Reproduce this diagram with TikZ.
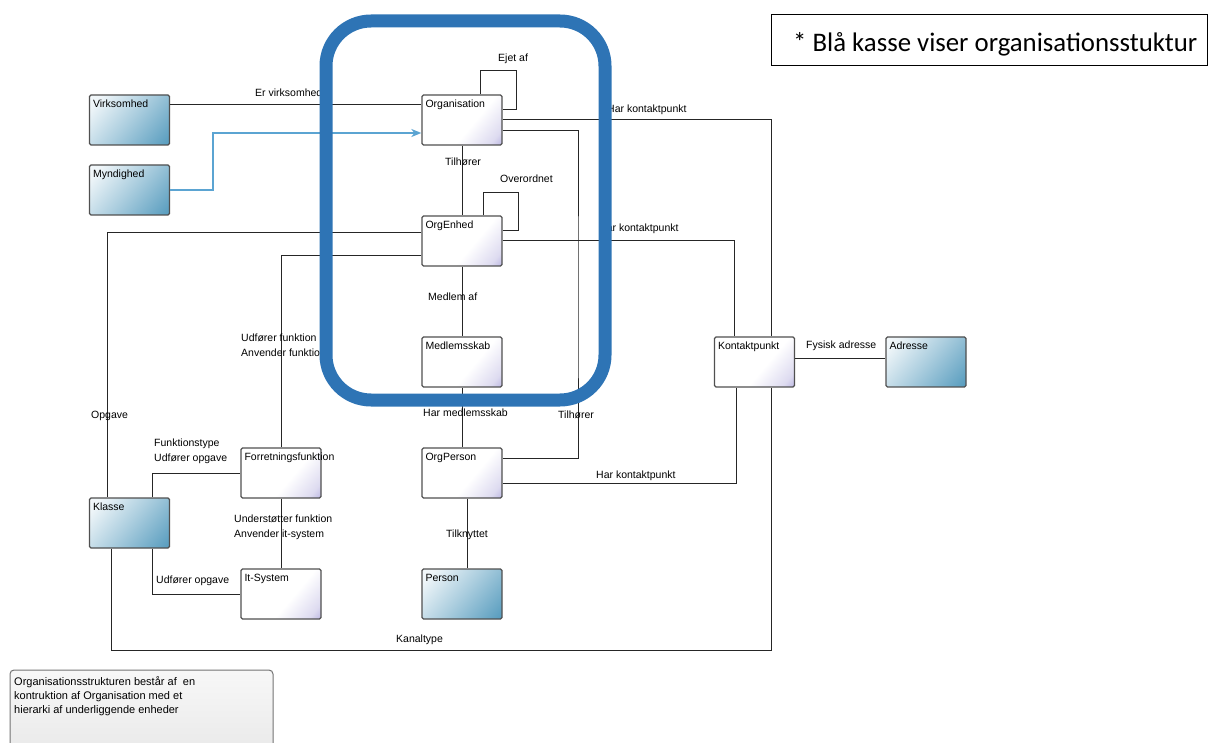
\documentclass[tikz,border=0pt]{standalone}
\usepackage{fontspec}
\setmainfont{Liberation Sans}
\newfontfamily\calibri{Carlito}
\usetikzlibrary{arrows.meta}

\definecolor{kasseblaa}{RGB}{46,116,181}
\definecolor{pilblaa}{RGB}{91,164,210}
\definecolor{felt}{RGB}{48,133,175}
\definecolor{lilla}{RGB}{120,110,195}
\definecolor{kant}{RGB}{80,80,80}

\pgfdeclarehorizontalshading{hvidhjoerne}{100bp}{color(0bp)=(white); color(58bp)=(white); color(78bp)=(lilla!25); color(100bp)=(lilla)}
\pgfdeclarehorizontalshading{blaaflade}{100bp}{color(0bp)=(white); color(22bp)=(felt!8); color(50bp)=(felt!40); color(100bp)=(felt)}

\tikzset{
  enhed/.style={draw=kant, line width=1.3, rounded corners=1.5,
    minimum width=80, minimum height=50, inner sep=0,
    shade, shading=hvidhjoerne, shading angle=-40},
  ekstern/.style={enhed, shading=blaaflade, shading angle=-40},
  navn/.style={anchor=north west, inner sep=0, xshift=4, yshift=-5.5},
  rel/.style={inner sep=0, anchor=base west},
  rel2/.style={inner sep=0, anchor=north west, align=left},
  forb/.style={line width=1, draw=black!85},
}

\begin{document}
\begin{tikzpicture}[x=1pt, y=-1pt, every node/.append style={font=\fontsize{10.5}{15}\selectfont}]
    \useasboundingbox (0,0) rectangle (1208,743);

    % Kasser
    \node[ekstern, label={[navn]north west:Virksomhed}] (virk) at (129.5,120) {};
    \node[ekstern, label={[navn]north west:Myndighed}] (mynd) at (129.5,190) {};
    \node[enhed, label={[navn]north west:Organisation}] (org) at (462,120) {};
    \node[enhed, label={[navn]north west:OrgEnhed}] (enh) at (462,241) {};
    \node[enhed, label={[navn]north west:Medlemsskab}] (med) at (462,362) {};
    \node[enhed, label={[navn]north west:Forretningsfunktion}] (forr) at (281,473) {};
    \node[enhed, label={[navn]north west:OrgPerson}] (orgp) at (462,473) {};
    \node[ekstern, label={[navn]north west:Klasse}] (klas) at (129.5,523) {};
    \node[enhed, label={[navn]north west:It-System}] (it) at (281,594) {};
    \node[ekstern, label={[navn]north west:Person}] (pers) at (462,594) {};
    \node[enhed, label={[navn]north west:Kontaktpunkt}] (kont) at (754.5,362) {};
    \node[ekstern, label={[navn]north west:Adresse}] (adr) at (926,362) {};

    % Forbindelser
    \draw[forb] ([yshift=15]virk.east) -- ([yshift=15]org.west);
    \draw[pilblaa, line width=1.8, -{Stealth[length=10,width=8,inset=3]}]
        (mynd.east) -- ++(43,0) |- ([yshift=-13]org.west);
    \draw[forb] ([xshift=18]org.north) |- (516,71) |- ([yshift=10]org.east);
    \draw[forb] (org.east) -| ([xshift=16.5]kont.north);
    \draw[forb] ([yshift=-11]org.east) -| (578,300) |- ([yshift=15]orgp.east);
    \draw[forb] (org) -- (enh);
    \draw[forb] ([xshift=21]enh.north) |- (518,193) |- ([yshift=10]enh.east);
    \draw[forb] (enh.east) -| ([xshift=-20.5]kont.north);
    \draw[forb] ([yshift=8]enh.west) -| ([xshift=-22.5]klas.north);
    \draw[forb] ([yshift=-15]enh.west) -| (forr.north);
    \draw[forb] (enh) -- (med);
    \draw[forb] (med) -- (orgp);
    \draw[forb] ([yshift=-10]orgp.east) -| ([xshift=-18.5]kont.south);
    \draw[forb] ([yshift=3]kont.east) -- ([yshift=3]adr.west);
    \draw[forb] ([xshift=22.5]klas.north) |- (forr.west);
    \draw[forb] ([xshift=22.5]klas.south) |- (it.west);
    \draw[forb] (forr) -- (it);
    \draw[forb] ([xshift=5]orgp.south) -- ([xshift=5]pers.north);
    \draw[forb] ([xshift=-18.5]klas.south) |- (771,650) -- ([xshift=16.5]kont.south);

    % Etiketter
    \node[rel] (lErVirk) at (255,97) {Er virksomhed};
    \node[rel] (lEjet) at (498,62) {Ejet af};
    \node[rel] (lHarKp1) at (607,113) {Har kontaktpunkt};
    \node[rel] (lTilh1) at (445,166) {Tilhører};
    \node[rel] (lOverord) at (500,183) {Overordnet};
    \node[rel] (lHarKp2) at (599,232) {Har kontaktpunkt};
    \node[rel] (lMedlem) at (428,301) {Medlem af};
    \node[rel2] (lUdfFunk) at (241,334) {Udfører funktion\\Anvender funktion};
    \node[rel] (lOpgave) at (91,418) {Opgave};
    \node[rel] (lHarMed) at (423,417) {Har medlemsskab};
    \node[rel] (lTilh2) at (558,418) {Tilhører};
    \node[rel2] (lFunkType) at (154,439) {Funktionstype\\Udfører opgave};
    \node[rel2] (lUnderst) at (234,515) {Understøtter funktion\\Anvender it-system};
    \node[rel] (lTilkn) at (446,537) {Tilknyttet};
    \node[rel] (lUdfOpg) at (156,583) {Udfører opgave};
    \node[rel] (lKanal) at (396,642) {Kanaltype};
    \node[rel] (lHarKp3) at (596,478) {Har kontaktpunkt};
    \node[rel] (lFysisk) at (806,349) {Fysisk adresse};

    % Blaa kasse
    \draw[kasseblaa, line width=13, rounded corners=45] (326,21) rectangle (605,400);

    % Noter
    \draw[black, line width=1] (771,15) rectangle (1207,66);
    \node[anchor=base west, inner sep=0, font=\calibri\fontsize{26.8}{30}\selectfont] (hoved) at (793,52)
        {* Blå kasse viser organisationsstuktur};
    \draw[draw=kant!80, line width=1, rounded corners=4, top color=black!3, bottom color=black!9]
        (10,670) rectangle (273,760);
    \node[rel2, font=\fontsize{11}{14}\selectfont] (note) at (14,676)
        {Organisationsstrukturen består af~ en\\kontruktion af Organisation med et\\hierarki af underliggende enheder};
\end{tikzpicture}
\end{document}
